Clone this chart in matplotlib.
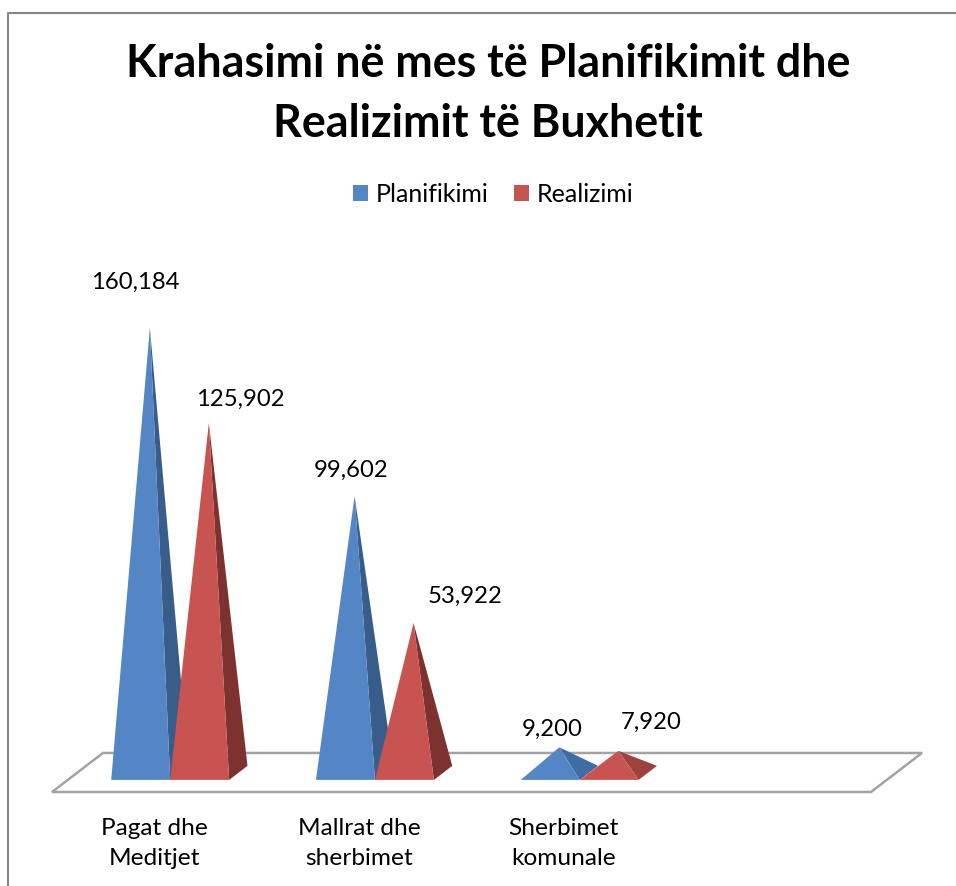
import matplotlib
matplotlib.use("Agg")
import matplotlib.pyplot as plt
from matplotlib.lines import Line2D
from matplotlib.patches import Patch, Polygon

W, H = 956, 886

categories = ["Pagat dhe\nMeditjet", "Mallrat dhe\nsherbimet", "Sherbimet\nkomunale", ""]
planifikimi = [160184, 99602, 9200]
realizimi = [125902, 53922, 7920]
label_planifikimi = ["160,184", "99,602", "9,200"]
label_realizimi = ["125,902", "53,922", "7,920"]

blue = "#5486c6"
red = "#c85451"
blue_side = ["#385d8a", "#385d8a", "#3f6ca3"]
red_side = ["#7e3230", "#7e3230", "#9e4240"]

# pixel offsets of the data labels from the tips
offset_planifikimi = [(-15, 45), (-3, 26), (-7, 18)]
offset_realizimi = [(32, 24), (51, 27), (33, 29)]

plt.rcParams["font.family"] = ["Lato", "DejaVu Sans"]

fig = plt.figure(figsize=(W / 100, H / 100), dpi=100)
ax = fig.add_axes([52 / W, 1 - 792 / H, (871 - 52) / W, (792 - 300) / H])
ax.set_xlim(-0.5, 3.5)
ax.set_ylim(0, 177000)

# floor depth in data units
depth_x = 0.249
depth_y = 14040


def proj(x, t, v):
    return (x + t * depth_x, v + t * depth_y)


floor = [proj(-0.5, 0, 0), proj(3.5, 0, 0), proj(3.5, 1, 0), proj(-0.5, 1, 0)]
ax.add_patch(Polygon(floor, closed=True, fc="white", ec="#a3a3a3", lw=1.8, clip_on=False, zorder=1))

bar_w = 0.288
t0, t1 = 0.31, 0.67


def pyramid(x, value, color, side, z):
    tip = proj(x + bar_w / 2, (t0 + t1) / 2, value)
    fl = proj(x, t0, 0)
    fr = proj(x + bar_w, t0, 0)
    br = proj(x + bar_w, t1, 0)
    ax.add_patch(Polygon([fr, br, tip], closed=True, fc=side, ec="none", clip_on=False, zorder=z))
    ax.add_patch(Polygon([fl, fr, tip], closed=True, fc=color, ec="none", clip_on=False, zorder=z + 0.5))
    return tip


for i in range(len(planifikimi)):
    tip = pyramid(i - bar_w, planifikimi[i], blue, blue_side[i], 2)
    ax.annotate(label_planifikimi[i], tip, xytext=offset_planifikimi[i], textcoords="offset pixels",
                ha="center", va="center", fontsize=17.2, color="black", annotation_clip=False)
    tip = pyramid(i, realizimi[i], red, red_side[i], 3)
    ax.annotate(label_realizimi[i], tip, xytext=offset_realizimi[i], textcoords="offset pixels",
                ha="center", va="center", fontsize=17.2, color="black", annotation_clip=False)

for s in ax.spines.values():
    s.set_visible(False)
ax.patch.set_visible(False)
ax.set_yticks([])
ax.set_xticks(range(len(categories)))
ax.set_xticklabels(categories, fontsize=17.6, linespacing=1.5)
ax.tick_params(axis="x", length=0, pad=19)

fig.suptitle("Krahasimi në mes të Planifikimit dhe\nRealizimit të Buxhetit",
             x=488 / W, y=1 - 94 / H, ha="center", va="center",
             fontsize=32.3, fontweight="bold", linespacing=1.55)

handles = [Patch(fc=blue, label="Planifikimi"), Patch(fc=red, label="Realizimi")]
fig.legend(handles=handles, loc="center", bbox_to_anchor=(493 / W, 1 - 194 / H), ncols=2,
           frameon=False, fontsize=18, handlelength=0.6, handleheight=0.6,
           handletextpad=0.32, columnspacing=1.0)

fig.add_artist(Line2D([8 / W, 8 / W, 1], [0, 1 - 13 / H, 1 - 13 / H], color="#868686", lw=1.5))

fig.savefig("out.png", dpi=100)
